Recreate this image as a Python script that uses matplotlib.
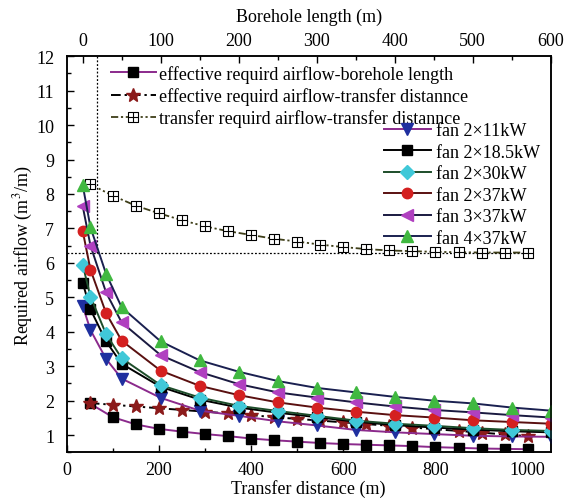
import matplotlib
matplotlib.use('Agg')
import matplotlib.pyplot as plt
from matplotlib.path import Path
from matplotlib.ticker import MultipleLocator
import numpy as np

plt.rcParams['font.family'] = ['Liberation Serif', 'DejaVu Serif']
plt.rcParams['mathtext.fontset'] = 'stix'

# transfer distance (bottom axis)
transfer_x = [50, 100, 150, 200, 250, 300, 350, 400, 450, 500,
              550, 600, 650, 700, 750, 800, 850, 900, 950, 1000]
eff_borehole = [1.92, 1.52, 1.31, 1.18, 1.10, 1.03, 0.97, 0.90, 0.85, 0.81,
                0.77, 0.74, 0.72, 0.70, 0.68, 0.65, 0.63, 0.61, 0.60, 0.59]
eff_transfer = [1.93, 1.88, 1.83, 1.78, 1.73, 1.68, 1.63, 1.58, 1.52, 1.47,
                1.42, 1.37, 1.32, 1.27, 1.22, 1.17, 1.12, 1.07, 1.02, 0.97]
transfer_req = [8.29, 7.95, 7.66, 7.44, 7.24, 7.06, 6.92, 6.81, 6.70, 6.62,
                6.53, 6.46, 6.40, 6.36, 6.34, 6.32, 6.31, 6.30, 6.30, 6.30]

# borehole length (top axis)
borehole_x = [0, 10, 30, 50, 100, 150, 200, 250, 300, 350, 400, 450, 500, 550, 600]
fan_2x11 = [4.75, 4.05, 3.21, 2.64, 2.08, 1.71, 1.56, 1.40, 1.28, 1.15, 1.08, 1.03, 0.98, 0.96, 0.95]
fan_2x185 = [5.42, 4.65, 3.72, 3.07, 2.40, 2.03, 1.80, 1.65, 1.52, 1.39, 1.29, 1.22, 1.16, 1.11, 1.08]
fan_2x30 = [5.95, 5.02, 3.93, 3.23, 2.45, 2.09, 1.85, 1.70, 1.56, 1.42, 1.33, 1.27, 1.20, 1.15, 1.12]
fan_2x37 = [6.93, 5.80, 4.54, 3.74, 2.87, 2.43, 2.16, 1.95, 1.80, 1.68, 1.58, 1.51, 1.43, 1.38, 1.33]
fan_3x37 = [7.65, 6.50, 5.14, 4.27, 3.32, 2.83, 2.48, 2.24, 2.09, 1.95, 1.83, 1.73, 1.66, 1.58, 1.51]
fan_4x37 = [8.26, 7.03, 5.68, 4.71, 3.72, 3.17, 2.84, 2.57, 2.37, 2.24, 2.11, 2.00, 1.92, 1.80, 1.71]

fan_labels = ['fan 2×11kW', 'fan 2×18.5kW', 'fan 2×30kW',
              'fan 2×37kW', 'fan 3×37kW', 'fan 4×37kW']

# square with a cross inside
boxplus = Path([(-1, -1), (1, -1), (1, 1), (-1, 1), (-1, -1),
                (0, -1), (0, 1), (-1, 0), (1, 0)],
               [Path.MOVETO, Path.LINETO, Path.LINETO, Path.LINETO, Path.CLOSEPOLY,
                Path.MOVETO, Path.LINETO, Path.MOVETO, Path.LINETO])

fig = plt.figure(figsize=(5.73, 5.02), dpi=100)
ax = fig.add_axes([0.1164, 0.097, 0.8447, 0.789])
ax2 = ax.twiny()

ax.set_xlim(0, 1050)
ax.set_ylim(0.5, 12)
ax2.set_xlim(-20.5, 600)

# reference lines
ax.plot([0, 1000], [6.3, 6.3], ls=(0, (1.5, 1.5)), color='black', lw=0.9)
ax.plot([66, 66], [6.3, 12], ls=(0, (1.5, 1.5)), color='black', lw=0.9)

h1, = ax.plot(transfer_x, eff_borehole, '-', color='#8b2a8c', lw=1.4,
              marker='s', ms=6.5, mfc='black', mec='black')
h2, = ax.plot(transfer_x, eff_transfer, ls=(0, (5, 2, 1.2, 2)), color='black', lw=1.4,
              marker='*', ms=10, mfc='#8b1a1a', mec='#8b1a1a')
h3, = ax.plot(transfer_x, transfer_req, ls=(0, (4, 1.5, 1.2, 1.5, 1.2, 1.5)), color='#3e3e18', lw=1.3,
              marker=boxplus, ms=7.5, mfc='white', mec='black', mew=0.8)

fan_data = [fan_2x11, fan_2x185, fan_2x30, fan_2x37, fan_3x37, fan_4x37]
line_cols = ['#8b2a8c', 'black', '#1d4d2a', '#5a1010', '#1a1a40', '#1a2050']
marks = ['v', 's', 'D', 'o', '<', '^']
mcols = ['#1f2f9f', 'black', '#40c8d8', '#d42020', '#b040c0', '#40b840']
msizes = [8, 6.5, 7, 7.5, 8, 8]
fan_handles = []
for ys, lc, mk, mc, msz, lab in zip(fan_data, line_cols, marks, mcols, msizes, fan_labels):
    h, = ax2.plot(borehole_x, ys, '-', color=lc, lw=1.4, marker=mk, ms=msz,
                  mfc=mc, mec=mc, label=lab)
    fan_handles.append(h)

# ticks
ax.xaxis.set_major_locator(MultipleLocator(200))
ax.xaxis.set_minor_locator(MultipleLocator(100))
ax.yaxis.set_major_locator(MultipleLocator(1))
ax.yaxis.set_minor_locator(MultipleLocator(0.5))
ax2.xaxis.set_major_locator(MultipleLocator(100))
ax2.xaxis.set_minor_locator(MultipleLocator(50))
ax.tick_params(which='both', direction='in', top=False, right=False, labelsize=13, width=1)
ax.tick_params(which='major', length=5)
ax.tick_params(which='minor', length=3)
ax.tick_params(axis='y', pad=9)
ax.tick_params(axis='x', pad=6)
ax2.tick_params(which='both', direction='in', labelsize=13, width=1, pad=5)
ax2.tick_params(which='major', length=5)
ax2.tick_params(which='minor', length=3)
for a in (ax, ax2):
    for s in a.spines.values():
        s.set_linewidth(1.1)

ax.set_xlabel('Transfer distance (m)', fontsize=13, labelpad=1)
ax.set_ylabel('Required airflow (m$^3$/m)', fontsize=13, labelpad=1)
ax2.set_xlabel('Borehole length (m)', fontsize=13, labelpad=8)

leg1 = ax2.legend([h1, h2, h3],
                  ['effective requird airflow-borehole length',
                   'effective requird airflow-transfer distannce',
                   'transfer requird airflow-transfer distannce'],
                  loc='upper left', bbox_to_anchor=(0.193, 0.869),
                  bbox_transform=fig.transFigure, frameon=False, fontsize=13,
                  handlelength=2.5, handletextpad=0.2, labelspacing=0.25,
                  borderpad=0, borderaxespad=0)
ax2.add_artist(leg1)
ax2.legend(fan_handles, fan_labels, loc='upper left', bbox_to_anchor=(0.67, 0.755),
           bbox_transform=fig.transFigure, frameon=False, fontsize=13,
           handlelength=2.6, handletextpad=0.3, labelspacing=0.25,
           borderpad=0, borderaxespad=0)

fig.savefig('out.png', dpi=100)
